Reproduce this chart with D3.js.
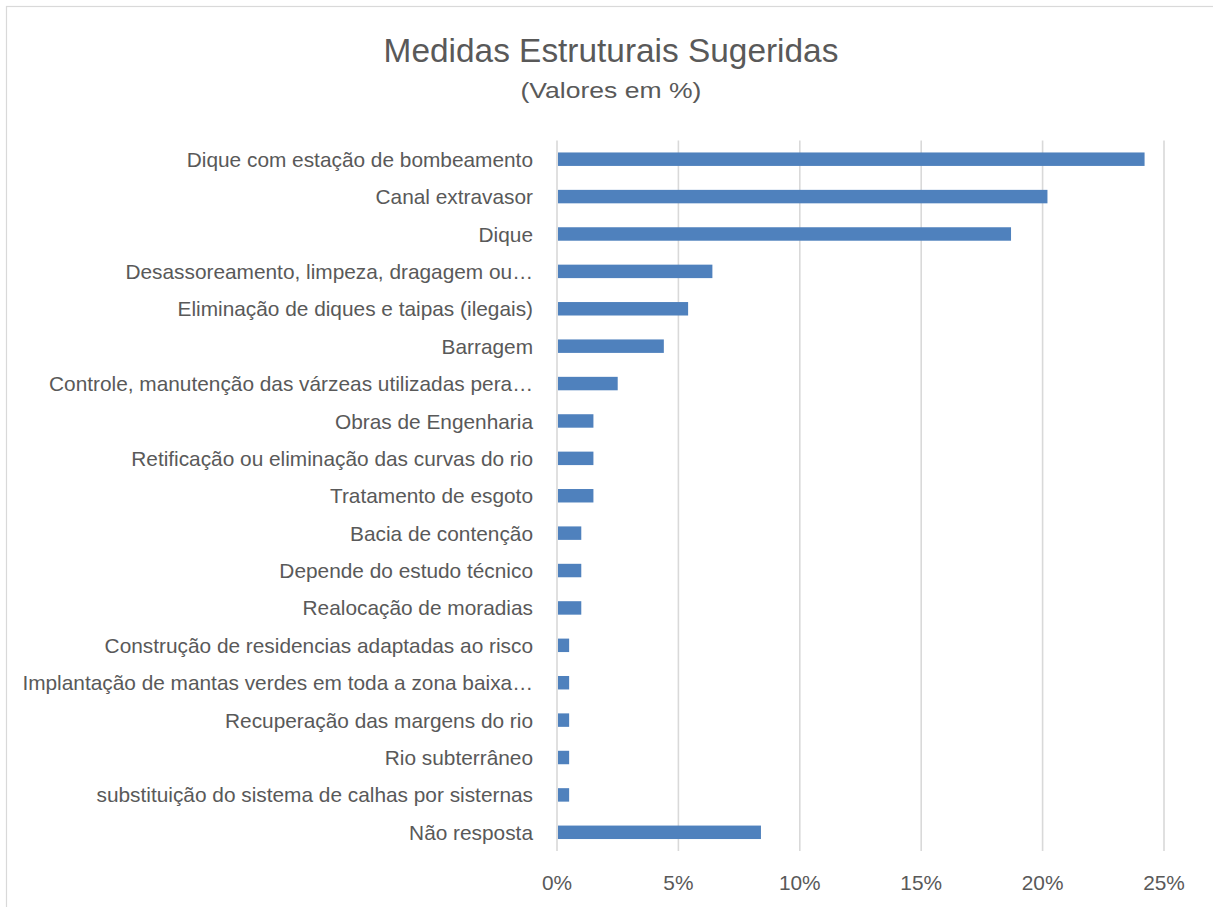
<!DOCTYPE html>
<html>
<head>
<meta charset="utf-8">
<script src="https://cdn.jsdelivr.net/npm/d3@7"></script>
<style>
  html, body { margin: 0; padding: 0; background: #fff; }
  svg { display: block; }
  text { font-family: "Liberation Sans", Arial, sans-serif; fill: #595959; }
</style>
</head>
<body>
<svg id="chart" width="1213" height="907"></svg>
<script>
// Structural measures suggested (share of answers, %)
const categories = [
  "Dique com estação de bombeamento",
  "Canal extravasor",
  "Dique",
  "Desassoreamento, limpeza, dragagem ou…",
  "Eliminação de diques e taipas (ilegais)",
  "Barragem",
  "Controle, manutenção das várzeas utilizadas pera…",
  "Obras de Engenharia",
  "Retificação ou eliminação das curvas do rio",
  "Tratamento de esgoto",
  "Bacia de contenção",
  "Depende do estudo técnico",
  "Realocação de moradias",
  "Construção de residencias adaptadas ao risco",
  "Implantação de mantas verdes em toda a zona baixa…",
  "Recuperação das margens do rio",
  "Rio subterrâneo",
  "substituição do sistema de calhas por sisternas",
  "Não resposta"
];
const values = [24.2, 20.2, 18.7, 6.4, 5.4, 4.4, 2.5, 1.5, 1.5, 1.5, 1.0, 1.0, 1.0, 0.5, 0.5, 0.5, 0.5, 0.5, 8.4];
const tickValues = [0, 5, 10, 15, 20, 25];
const titleText = "Medidas Estruturais Sugeridas";
const subtitleText = "(Valores em %)";

const svg = d3.select("#chart");

// chart frame
svg.append("rect")
  .attr("x", 6.5).attr("y", 6.5)
  .attr("width", 1240).attr("height", 940)
  .attr("fill", "#fff")
  .attr("stroke", "#d9d9d9").attr("stroke-width", 1.2);

const plot = { left: 557, right: 1164, top: 140.5, bottom: 851 };

const x = d3.scaleLinear().domain([0, 25]).range([plot.left, plot.right]);
const y = d3.scaleBand().domain(categories)
  .range([plot.top, plot.bottom])
  .paddingInner(0.64).paddingOuter(0.32);

// horizontally condense a text element so its width fits a target
function fitWidth(sel, target, anchorX, anchor) {
  const node = sel.node();
  const w = node.getComputedTextLength();
  const k = target / w;
  sel.attr("transform", `translate(${anchorX},0) scale(${k},1) translate(${-anchorX},0)`);
  return k;
}

// vertical gridlines
svg.append("g").selectAll("line")
  .data(tickValues)
  .join("line")
  .attr("x1", d => x(d)).attr("x2", d => x(d))
  .attr("y1", plot.top).attr("y2", plot.bottom)
  .attr("stroke", "#d9d9d9").attr("stroke-width", 1.6);

// bars
svg.append("g").selectAll("rect")
  .data(categories.map((c, i) => ({ c, v: values[i] })))
  .join("rect")
  .attr("x", x(0) + 1)
  .attr("y", d => y(d.c))
  .attr("width", d => x(d.v) - x(0) - 1)
  .attr("height", y.bandwidth())
  .attr("fill", "#4f81bd");

// category labels
const labelX = x(0) - 24;
const labels = svg.append("g").attr("font-size", 21);
const labelNodes = labels.selectAll("text")
  .data(categories)
  .join("text")
  .attr("x", labelX)
  .attr("y", d => y(d) + y.bandwidth() / 2)
  .attr("dy", "0.36em")
  .attr("text-anchor", "end")
  .text(d => d);
// condense labels so the longest one spans like the Calibri original
const longest = d3.max(labelNodes.nodes(), n => n.getComputedTextLength());
const kLab = 511 / longest;
labels.attr("transform", `translate(${labelX},0) scale(${kLab},1) translate(${-labelX},0)`);

// x tick labels
const ticks = svg.append("g").attr("font-size", 21);
ticks.selectAll("text")
  .data(tickValues)
  .join("text")
  .attr("x", d => x(d))
  .attr("y", 890)
  .attr("text-anchor", "middle")
  .attr("transform", d => `translate(${x(d)},0) scale(${kLab},1) translate(${-x(d)},0)`)
  .text(d => d + "%");

// title and subtitle
const title = svg.append("text")
  .attr("x", 611).attr("y", 62)
  .attr("text-anchor", "middle")
  .attr("font-size", 33)
  .text(titleText);
fitWidth(title, 455, 611);

const sub = svg.append("text")
  .attr("x", 611).attr("y", 98)
  .attr("text-anchor", "middle")
  .attr("font-size", 22)
  .text(subtitleText);
fitWidth(sub, 181, 611);
</script>
</body>
</html>
